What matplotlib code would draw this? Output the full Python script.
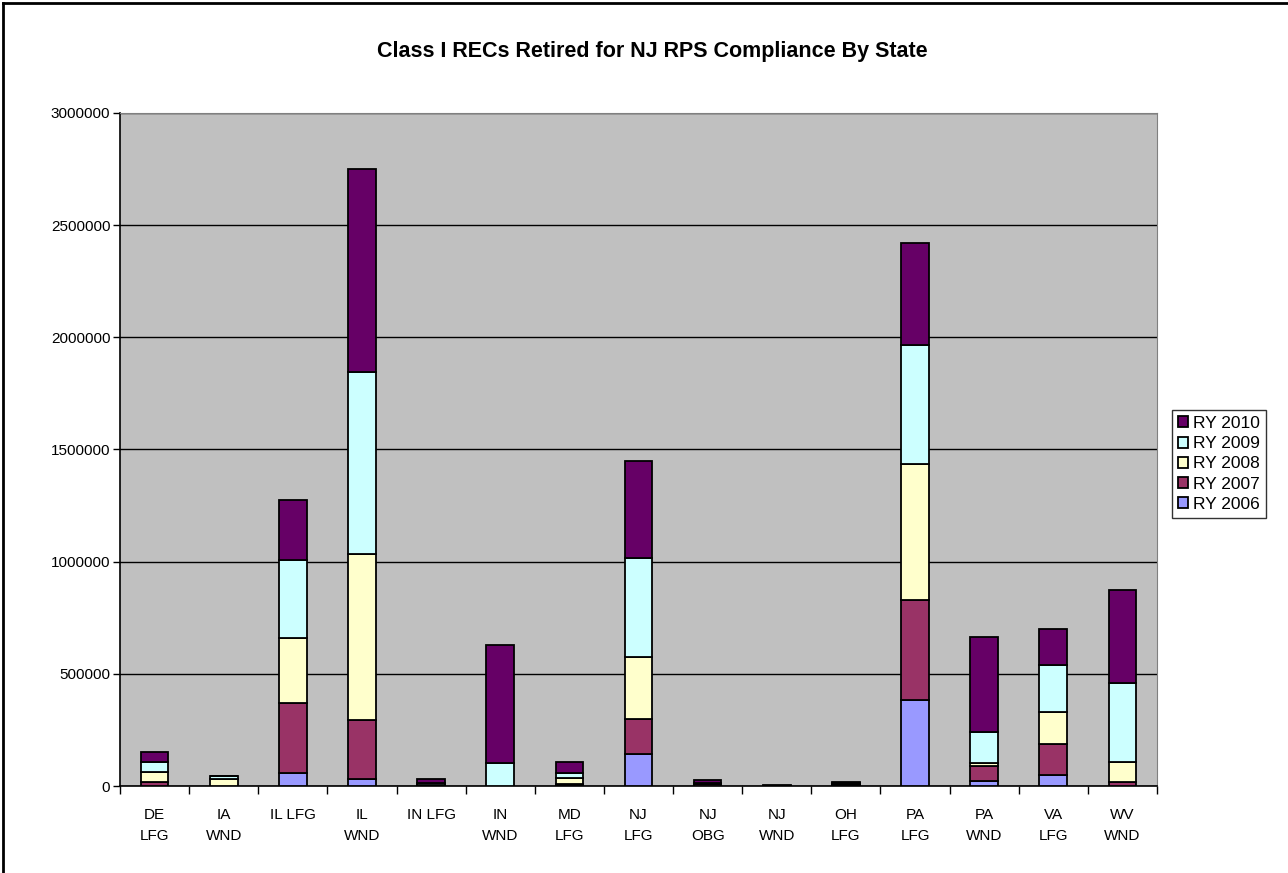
import matplotlib.pyplot as plt
import numpy as np
from matplotlib.ticker import FuncFormatter, FixedLocator

plt.rcParams['font.family'] = ['Liberation Sans', 'DejaVu Sans']

categories = ['DE\nLFG', 'IA\nWND', 'IL LFG', 'IL\nWND', 'IN LFG', 'IN\nWND', 'MD\nLFG',
              'NJ\nLFG', 'NJ\nOBG', 'NJ\nWND', 'OH\nLFG', 'PA\nLFG', 'PA\nWND', 'VA\nLFG', 'WV\nWND']
years = ['RY 2006', 'RY 2007', 'RY 2008', 'RY 2009', 'RY 2010']
ry2006 = [0, 0, 57000, 30000, 0, 0, 3000, 141000, 0, 0, 2000, 385000, 24000, 48000, 0]
ry2007 = [19000, 0, 315000, 265000, 3000, 0, 8000, 158000, 8000, 0, 3000, 444000, 64000, 138000, 19000]
ry2008 = [44000, 31000, 286000, 738000, 3000, 0, 25000, 274000, 2000, 0, 4000, 607000, 13000, 144000, 89000]
ry2009 = [44000, 15000, 351000, 812000, 8000, 101000, 24000, 443000, 2000, 2000, 3000, 530000, 140000, 210000, 350000]
ry2010 = [45000, 0, 268000, 905000, 16000, 528000, 45000, 432000, 14000, 3000, 4000, 454000, 423000, 160000, 416000]
colors = ['#9999FF', '#993366', '#FFFFCC', '#CCFFFF', '#660066']

fig = plt.figure(figsize=(12.88, 8.73), dpi=100)
ax = fig.add_axes([120/1288, 1-786/873, 1037/1288, 673/873])
ax.set_facecolor('#C0C0C0')

x = np.arange(len(categories))
bottom = np.zeros(len(categories))
for vals, c, lab in zip([ry2006, ry2007, ry2008, ry2009, ry2010], colors, years):
    ax.bar(x, vals, 0.4, bottom=bottom, color=c, edgecolor='black', linewidth=1.3,
           label=lab, zorder=3)
    bottom += np.array(vals)

ax.set_xlim(-0.5, len(categories)-0.5)
ax.set_ylim(0, 3000000)
ax.set_yticks(np.arange(0, 3000001, 500000))
ax.yaxis.set_major_formatter(FuncFormatter(lambda v, p: '%d' % v))
ax.grid(axis='y', color='black', linewidth=1, zorder=1)
ax.set_axisbelow(True)

ax.set_xticks(x)
ax.set_xticklabels(categories, fontsize=11, linespacing=1.6)
ax.xaxis.set_minor_locator(FixedLocator(np.arange(-0.5, len(categories), 1)))
ax.tick_params(axis='x', which='major', length=0, pad=16)
ax.tick_params(axis='x', which='minor', length=6, width=1, direction='out')
ax.tick_params(axis='y', length=5, width=1, direction='out', labelsize=11, pad=2)

for s in ['top', 'right']:
    ax.spines[s].set_color('#808080')
for s in ['left', 'bottom']:
    ax.spines[s].set_color('black')
    ax.spines[s].set_linewidth(1.2)

h, l = ax.get_legend_handles_labels()
leg = ax.legend(h[::-1], l[::-1], loc='upper left', bbox_to_anchor=(1172/1288, 1-410/873),
                bbox_transform=fig.transFigure, fontsize=12.5, frameon=True, fancybox=False,
                edgecolor='black', handlelength=0.6, handleheight=0.6, handletextpad=0.25,
                borderpad=0.35, labelspacing=0.3, borderaxespad=0)
leg.get_frame().set_linewidth(1)

fig.text(652/1288, 1-52/873, 'Class I RECs Retired for NJ RPS Compliance By State',
         ha='center', va='center', fontsize=15.5, fontweight='bold')

fig.add_artist(plt.Line2D([3/1288, 3/1288], [0, 1-3/873], color='black', linewidth=2,
                          transform=fig.transFigure))
fig.add_artist(plt.Line2D([3/1288, 1], [1-3/873, 1-3/873], color='black', linewidth=2,
                          transform=fig.transFigure))

fig.savefig('out.png', dpi=100)
